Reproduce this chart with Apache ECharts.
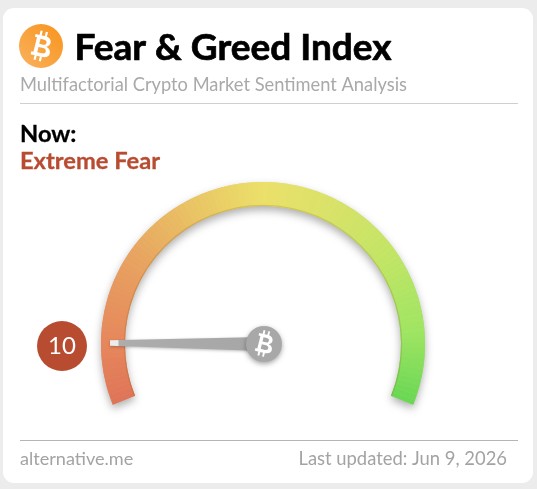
<!DOCTYPE html>
<html><head><meta charset="utf-8">
<style>html,body{margin:0;padding:0;background:#ececec;overflow:hidden}#c{width:537px;height:489px}</style>
<script src="https://cdn.jsdelivr.net/npm/echarts@6/dist/echarts.min.js"></script>
</head><body><div id="c"></div>
<script>
const titleText = 'Fear & Greed Index';
const subtitleText = 'Multifactorial Crypto Market Sentiment Analysis';
const nowText = 'Now:';
const classificationText = 'Extreme Fear';
const sourceText = 'alternative.me';
const updatedText = 'Last updated: Jun 9, 2026';
const indexValue = 10;
const scaleMin = 0;
const scaleMax = 100;
const arcStops = [0, 0.1, 0.25, 0.38, 0.5, 0.62, 0.75, 0.88, 1];
const arcColors = ['#df7458','#e6875c','#e8a461','#e9c565','#ebe06a','#d9e269','#c2e566','#a0e563','#68d655'];
const font = 'Lato, "Open Sans", sans-serif';
const bitcoinPath = 'M35 0H43V15H35ZM55 0H63V15H55ZM35 85H43V100H35ZM55 85H63V100H55ZM20 15H58C78 15 82 28 82 33C82 41 76 46 70 48C80 50 88 57 88 67C88 78 78 85 60 85H20V75H28V25H20ZM42 27V44H56C64 44 67 40 67 35C67 30 63 27 56 27ZM42 55V73H60C68 73 72 69 72 64C72 59 67 55 60 55Z';

echarts.graphic.registerShape('btc', echarts.graphic.extendPath(bitcoinPath, {}));

function hex(c){return [1,3,5].map(i=>parseInt(c.slice(i,i+2),16));}
function colorAt(t){
  let i=0; while(i<arcStops.length-2 && t>arcStops[i+1]) i++;
  const k=(t-arcStops[i])/(arcStops[i+1]-arcStops[i]);
  const a=hex(arcColors[i]),b=hex(arcColors[i+1]);
  return 'rgb('+a.map((v,j)=>Math.round(v+(b[j]-v)*k)).join(',')+')';
}
const segments=[]; const N=120;
for(let i=1;i<=N;i++) segments.push([i/N,colorAt((i-0.5)/N)]);

function btcMark(cx,cy,sx,sy){
  return {type:'btc',z:11,x:cx-50,y:cy-50,originX:50,originY:50,scaleX:sx,scaleY:sy,rotation:-0.24,style:{fill:'#fff'}};
}

const center=[263,344];
const base={type:'gauge',center,startAngle:202,endAngle:-22,min:scaleMin,max:scaleMax,
  splitLine:{show:false},axisTick:{show:false},axisLabel:{show:false},pointer:{show:false},anchor:{show:false},
  title:{show:false},detail:{show:false},silent:true,animation:false};
const under=new echarts.graphic.LinearGradient(0,0,1,0,[{offset:0,color:'#e6875c'},{offset:0.25,color:'#e8b063'},{offset:0.5,color:'#ebe06a'},{offset:0.75,color:'#c6e466'},{offset:1,color:'#90e05f'}]);

const chart=echarts.init(document.getElementById('c'),null,{renderer:'canvas'});
chart.setOption({
  animation:false,
  backgroundColor:'#ececec',
  graphic:[
    {type:'rect',z:-1,shape:{x:3,y:8,width:530,height:475,r:11},style:{fill:'#fff'}},
    {type:'circle',z:10,shape:{cx:41,cy:46,r:22},style:{fill:new echarts.graphic.LinearGradient(0,1,1,0,[{offset:0,color:'#f9b25f'},{offset:1,color:'#f8931c'}])}},
    btcMark(41,46,0.27,0.3),
    {type:'text',z:10,x:74.5,y:48,style:{text:titleText,font:'bold 37px '+font,fill:'#000',stroke:'#000',lineWidth:0.7,verticalAlign:'middle'}},
    {type:'text',z:10,x:20,y:85,style:{text:subtitleText,font:'18.3px '+font,fill:'#a9a9a9',verticalAlign:'middle'}},
    {type:'rect',z:10,shape:{x:20,y:103,width:498,height:1},style:{fill:'#cfcfcf'}},
    {type:'text',z:10,x:20,y:134,style:{text:nowText,font:'bold 23.7px '+font,fill:'#000',stroke:'#000',lineWidth:0.3,verticalAlign:'middle'}},
    {type:'text',z:10,x:20,y:161,style:{text:classificationText,font:'bold 23.7px '+font,fill:'#b84c31',stroke:'#b84c31',lineWidth:0.3,verticalAlign:'middle'}},
    {type:'rect',z:10,shape:{x:20,y:440,width:498,height:1},style:{fill:'#b5b5b5'}},
    {type:'text',z:10,x:20,y:459,style:{text:sourceText,font:'18.1px '+font,fill:'#a3a3a3',verticalAlign:'middle'}},
    {type:'text',z:10,x:507,y:459,style:{text:updatedText,font:'18.4px '+font,fill:'#a3a3a3',verticalAlign:'middle',align:'right'}},
    btcMark(264,343.5,0.24,0.26)
  ],
  series:[
    Object.assign({},base,{z:2,radius:162,axisLine:{show:true,lineStyle:{width:24,color:[[1,under]],shadowBlur:9,shadowColor:'rgba(0,0,0,0.32)',shadowOffsetY:4}}}),
    Object.assign({},base,{z:3,radius:162,axisLine:{show:true,lineStyle:{width:24,color:segments}}}),
    Object.assign({},base,{z:4,radius:139.2,axisLine:{show:true,lineStyle:{width:1.2,color:[[1,'rgba(130,90,10,0.20)']]}}}),
    Object.assign({},base,{z:5,radius:162,axisLine:{show:false},
      pointer:{show:true,icon:'path://M3,0L7,0L10,100L0,100Z',length:153,width:14,offsetCenter:[0,0],
        itemStyle:{color:new echarts.graphic.LinearGradient(0,0,0,1,[{offset:0,color:'#ececec'},{offset:0.05,color:'#ececec'},{offset:0.06,color:'#adadad'},{offset:1,color:'#a6a6a6'}]),shadowBlur:3,shadowColor:'rgba(0,0,0,0.25)',shadowOffsetY:1}},
      anchor:{show:true,showAbove:true,size:36,icon:'circle',offsetCenter:[1,0],
        itemStyle:{color:'#a8a8a8',shadowBlur:5,shadowColor:'rgba(0,0,0,0.35)',shadowOffsetY:2,borderWidth:0}},
      detail:{show:true,valueAnimation:false,formatter:'{value}',offsetCenter:[-201,2],width:50,height:50,lineHeight:50,padding:0,borderRadius:25,
        backgroundColor:'#b84c31',color:'#fff',fontFamily:font,fontSize:24,fontWeight:'normal'},
      data:[{value:indexValue}]})
  ]
});
</script></body></html>
